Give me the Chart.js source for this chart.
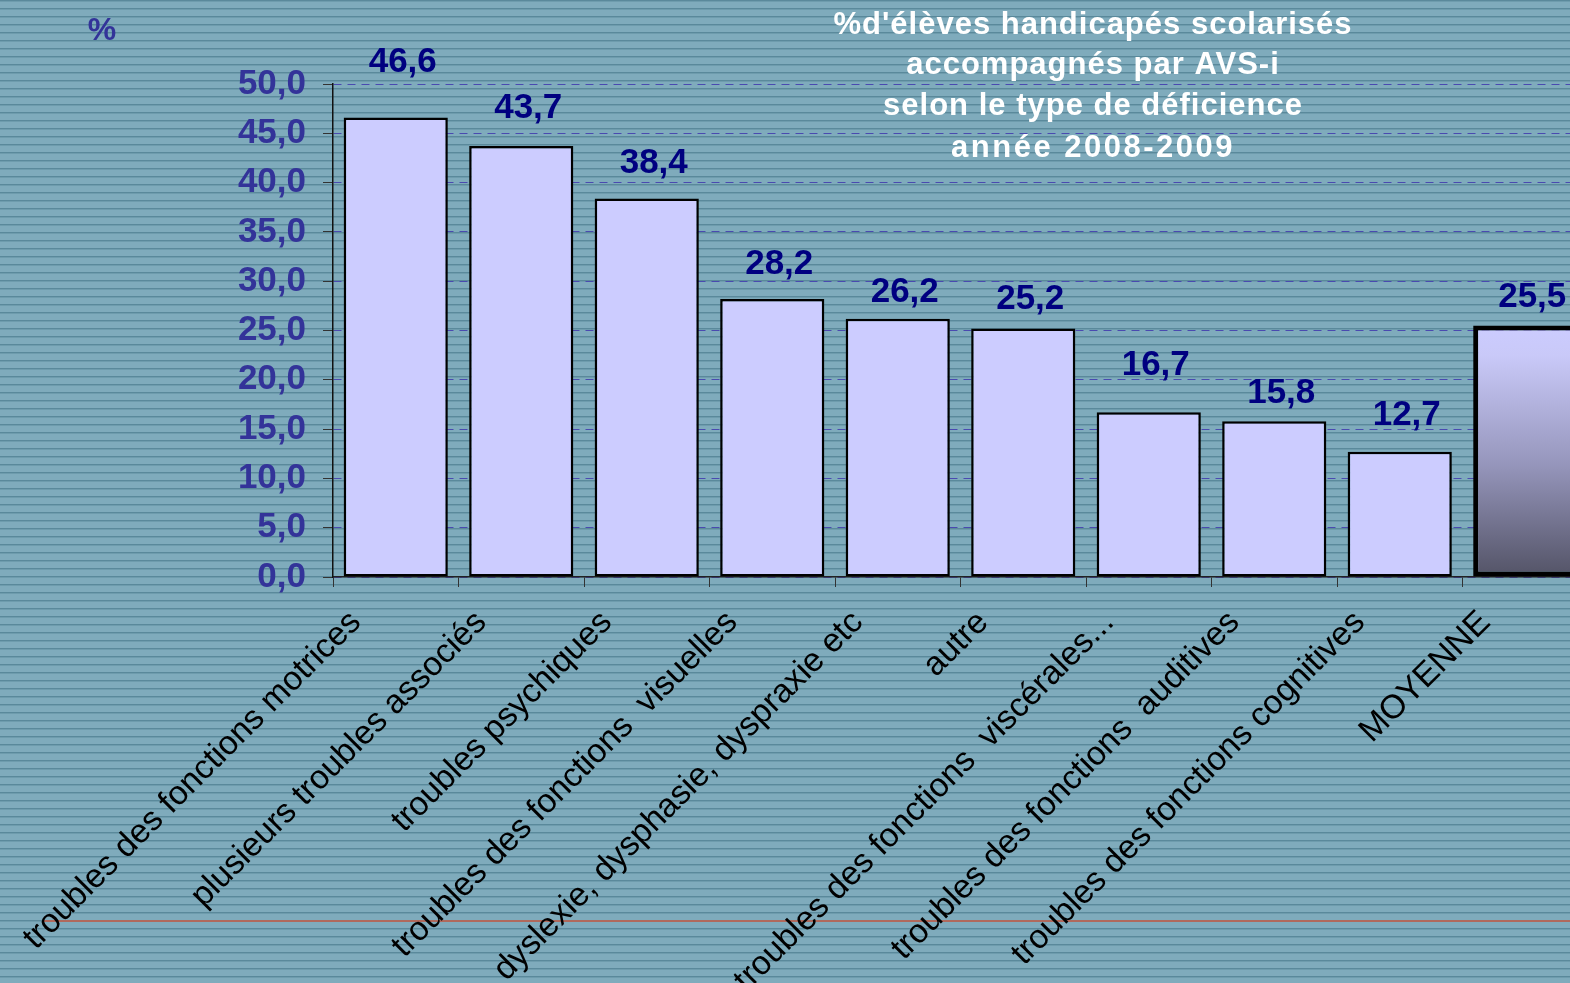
<!DOCTYPE html>
<html lang="fr">
<head>
<meta charset="utf-8">
<title>AVS-i 2008-2009</title>
<script src="https://cdn.jsdelivr.net/npm/chart.js@4/dist/chart.umd.min.js"></script>
<style>
  html, body { margin: 0; padding: 0; overflow: hidden; background: #7fabbc; }
  #avsChart { display: block; }
</style>
</head>
<body>
<canvas id="avsChart" width="1600" height="983"></canvas>
<script>
const categories = [
  "troubles des fonctions motrices",
  "plusieurs troubles associés",
  "troubles psychiques",
  "troubles des fonctions  visuelles",
  "dyslexie, dysphasie, dyspraxie etc",
  "autre",
  "troubles des fonctions  viscérales...",
  "troubles des fonctions  auditives",
  "troubles des fonctions cognitives",
  "MOYENNE",
];
const percentages = [46.6, 43.7, 38.4, 28.2, 26.2, 25.2, 16.7, 15.8, 12.7, 25.5];
const yTicks = [0, 5, 10, 15, 20, 25, 30, 35, 40, 45, 50];
const titleLines = [
  "%d'élèves handicapés scolarisés",
  "accompagnés par AVS-i",
  "selon le type de déficience",
  "année 2008-2009",
];

// lift of each value label above its bar (as placed in the original)
const labelLift = [55, 38, 35, 35, 26, 29, 47, 28, 36, 28];

const fmt = (v) => v.toFixed(1).replace(".", ",");
const lastIdx = categories.length - 1;

// striped background + thin rule near the bottom
const background = {
  id: "background",
  beforeDraw(chart) {
    const { ctx, width, height } = chart;
    ctx.save();
    ctx.fillStyle = "#7fabbc";
    ctx.fillRect(0, 0, width, height);
    for (let y = 0; y < height; y += 8) {
      ctx.fillStyle = "#5a899b";
      ctx.fillRect(0, y, width, 1);
      ctx.fillStyle = "#6e9cad";
      ctx.fillRect(0, y + 1, width, 1);
    }
    ctx.fillStyle = "#b0695c";
    ctx.fillRect(44, 920, width - 44, 2);

    ctx.fillStyle = "#333399";
    ctx.font = "bold 32px 'Liberation Sans', Arial, sans-serif";
    ctx.textAlign = "center";
    ctx.textBaseline = "middle";
    ctx.fillText("%", 102, 31);
    ctx.restore();
  },
};

const titleBlock = {
  id: "titleBlock",
  afterDraw(chart) {
    const { ctx } = chart;
    ctx.save();
    ctx.fillStyle = "#ffffff";
    ctx.font = "bold 31px 'Liberation Sans', Arial, sans-serif";
    ctx.textAlign = "center";
    ctx.textBaseline = "middle";
    const centers = [25, 65, 106, 148];
    titleLines.forEach((line, i) => {
      ctx.letterSpacing = i === 3 ? "2.5px" : "1px";
      ctx.fillText(line, 1093, centers[i]);
    });
    ctx.restore();
  },
};

const valueLabels = {
  id: "valueLabels",
  afterDatasetsDraw(chart) {
    const { ctx } = chart;
    const meta = chart.getDatasetMeta(0);
    ctx.save();
    ctx.fillStyle = "#000080";
    ctx.font = "bold 35px 'Liberation Sans', Arial, sans-serif";
    ctx.textAlign = "center";
    ctx.textBaseline = "middle";
    meta.data.forEach((bar, i) => {
      ctx.fillText(fmt(percentages[i]), bar.x + 7, bar.y - labelLift[i]);
    });
    ctx.restore();
  },
};

function barFill(context) {
  if (context.dataIndex !== lastIdx) return "#ccccff";
  const chart = context.chart;
  const y = chart.scales.y;
  if (!chart.chartArea || !y) return "#9999bb";
  const top = y.getPixelForValue(percentages[lastIdx]);
  const base = y.getPixelForValue(0);
  const g = chart.ctx.createLinearGradient(0, top, 0, base);
  g.addColorStop(0, "#ccccff");
  g.addColorStop(0.12, "#c9c9f8");
  g.addColorStop(0.55, "#9696bc");
  g.addColorStop(1, "#535366");
  return g;
}

new Chart(document.getElementById("avsChart"), {
  type: "bar",
  data: {
    labels: categories,
    datasets: [
      {
        data: percentages,
        backgroundColor: barFill,
        borderColor: "#000000",
        borderWidth: (c) => (c.dataIndex === lastIdx ? 5 : 2.5),
        borderSkipped: false,
        barPercentage: 0.83,
        categoryPercentage: 1,
      },
    ],
  },
  options: {
    responsive: false,
    animation: false,
    layout: { padding: { top: 84, right: 12, left: 0, bottom: 0 } },
    plugins: {
      legend: { display: false },
      tooltip: { enabled: false },
    },
    scales: {
      x: {
        afterFit: (scale) => { scale.height = 406; },
        grid: {
          offset: true,
          drawOnChartArea: false,
          tickLength: 10,
          tickColor: "#333333",
        },
        border: { color: "#222222", width: 1.5 },
        ticks: {
          autoSkip: false,
          minRotation: 45,
          maxRotation: 45,
          padding: 16,
          labelOffset: -40,
          color: "#000000",
          font: { family: "'Liberation Sans', Arial, sans-serif", size: 33.5 },
        },
      },
      y: {
        min: 0,
        max: 50,
        afterFit: (scale) => { scale.width = 333; },
        afterBuildTicks: (scale) => { scale.ticks = yTicks.map((v) => ({ value: v })); },
        grid: {
          color: "#4a4ab0",
          lineWidth: 1,
          tickLength: 10,
          tickColor: "#333333",
          tickBorderDash: [],
        },
        border: { color: "#111111", width: 1.5, dash: [8, 6] },
        ticks: {
          padding: 17,
          color: "#333399",
          font: { family: "'Liberation Sans', Arial, sans-serif", size: 35, weight: "bold" },
          callback: (v) => fmt(v),
        },
      },
    },
  },
  plugins: [background, titleBlock, valueLabels],
});
</script>
</body>
</html>
